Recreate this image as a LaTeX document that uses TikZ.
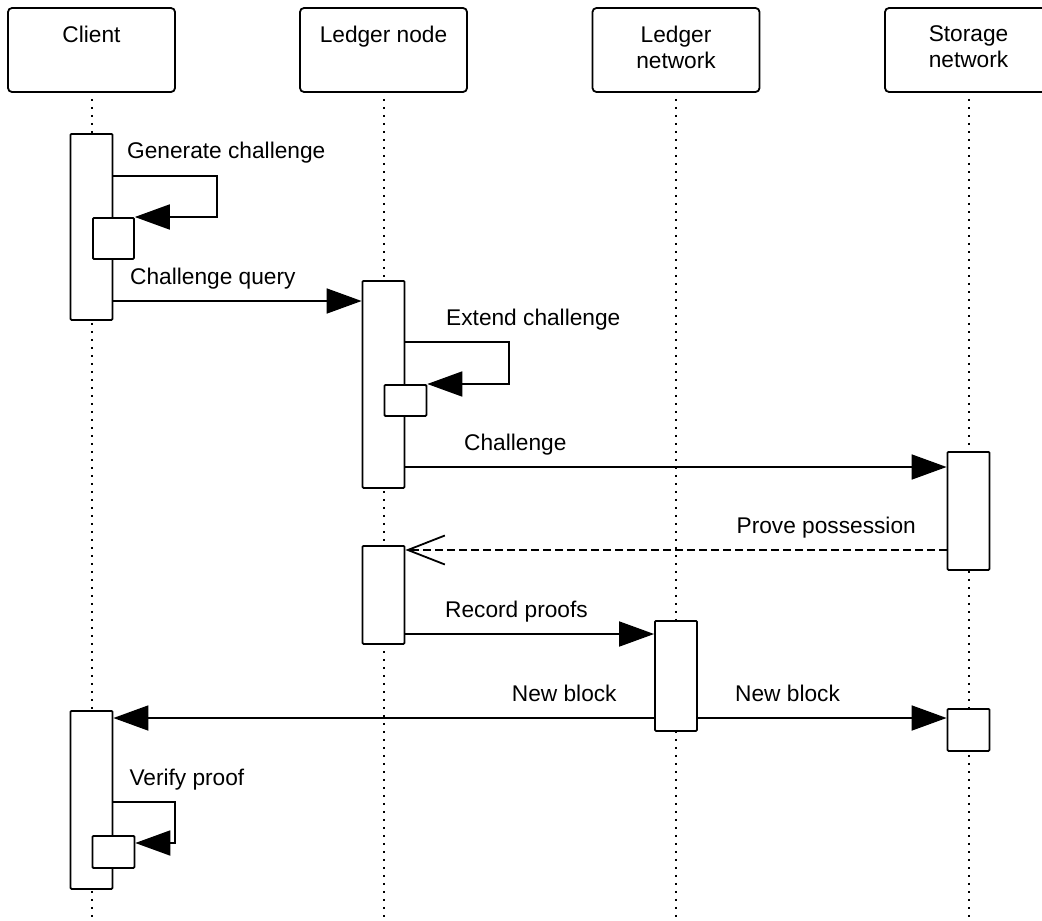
\documentclass[tikz,border=0pt]{standalone}
\usepackage{fontspec}
\setmainfont{Liberation Sans}
\usetikzlibrary{arrows.meta}

\newcommand\diagfont{\fontsize{22.7}{26}\selectfont}

\begin{document}
\begin{tikzpicture}[x=1pt,y=-1pt,
  head/.style={draw, rounded corners=4pt, line width=1.8pt,
    minimum width=167pt, minimum height=84pt, inner sep=0pt},
  headtext/.style={anchor=north, align=center, inner sep=0pt, font=\diagfont},
  lifeline/.style={line width=2pt, dash pattern=on 2pt off 6pt, dash phase=2pt},
  bar/.style={draw, fill=white, line width=1.8pt, minimum width=42pt,
    inner sep=0pt, anchor=north, rounded corners=1pt},
  msg/.style={line width=1.8pt, -{Triangle[length=35pt,width=25pt]}},
  reply/.style={line width=1.8pt, dash pattern=on 8pt off 4pt,
    -{Straight Barb[length=37pt,width=29pt]}},
  lbl/.style={anchor=base west, inner sep=0pt, font=\diagfont},
  lblr/.style={anchor=base east, inner sep=0pt, font=\diagfont}]

\useasboundingbox (0,0) rectangle (1042,921);
\fill[white] (0,0) rectangle (1042,921);
\clip (0,0) rectangle (1042,921);

\coordinate (bottom) at (0,921);

% participants
\node[head] (client)  at (91.5,50)  {};
\node[head] (ledger)  at (383.5,50) {};
\node[head] (lnet)    at (676,50)   {};
\node[head] (snet)    at (968.5,50) {};

\node[headtext] (clientT) at ([yshift=-18.7pt]client.north) {Client};
\node[headtext] (ledgerT) at ([yshift=-18.7pt]ledger.north) {Ledger node};
\node[headtext] (lnetT)   at ([yshift=-18.7pt]lnet.north)   {Ledger\\network};
\node[headtext] (snetT)   at ([yshift=-18.7pt]snet.north)   {Storage\\network};

% lifelines
\foreach \p in {client,ledger,lnet,snet}
  \draw[lifeline] (\p.south) -- (\p.south |- bottom);

% activation bars
\node[bar, minimum height=186pt] (c1) at (client.south |- 0,133) {};
\node[bar, minimum height=207pt] (l1) at (ledger.south |- 0,280) {};
\node[bar, minimum height=118pt] (s1) at (snet.south |- 0,451) {};
\node[bar, minimum height=98pt]  (l2) at (ledger.south |- 0,545) {};
\node[bar, minimum height=110pt] (n1) at (lnet.south |- 0,620) {};
\node[bar, minimum height=42pt]  (s2) at (snet.south |- 0,708) {};
\node[bar, minimum height=178pt] (c2) at (client.south |- 0,710) {};

% nested activations for self calls
\node[bar, minimum width=41pt, minimum height=41pt] (c1s) at (c1.east |- 0,217) {};
\node[bar, minimum width=42pt, minimum height=31pt] (l1s) at (l1.east |- 0,384) {};
\node[bar, minimum width=42pt, minimum height=32pt] (c2s) at (c2.east |- 0,835) {};

% turning points of the self calls
\coordinate (genTurn) at (217,217);
\coordinate (extTurn) at (509,384);
\coordinate (verTurn) at (175,843);

% messages
\draw[msg] (c1.east |- 0,176) -| (genTurn) -- (c1s.north east);
\draw[msg] (c1.east |- 0,301) -- (l1.west |- 0,301);
\draw[msg] (l1.east |- 0,342) -| (extTurn) -- (l1s.north east);
\draw[msg] (l1.east |- 0,467) -- (s1.west |- 0,467);
\draw[reply] (s1.west |- 0,550) -- (l2.east |- 0,550);
\draw[msg] (l2.east |- 0,634) -- (n1.west |- 0,634);
\draw[msg] (n1.west |- 0,718) -- (c2.east |- 0,718);
\draw[msg] (n1.east |- 0,718) -- (s2.west |- 0,718);
\draw[msg] (c2.east |- 0,802) -| (verTurn) -- (c2s.east |- verTurn);

% message labels
\node[lbl]  (tGen)   at (127,158)   {Generate challenge};
\node[lbl]  (tQuery) at (130,284)   {Challenge query};
\node[lbl]  (tExt)   at (446,325.7) {Extend challenge};
\node[lbl]  (tChal)  at (464,450)   {Challenge};
\node[lblr] (tProve) at (916,533)   {Prove possession};
\node[lbl]  (tRec)   at (445,617.5) {Record proofs};
\node[lbl]  (tNewL)  at (511.7,701.7) {New block};
\node[lbl]  (tNewR)  at (735,701.7) {New block};
\node[lbl]  (tVer)   at (129.3,785) {Verify proof};

\end{tikzpicture}
\end{document}
